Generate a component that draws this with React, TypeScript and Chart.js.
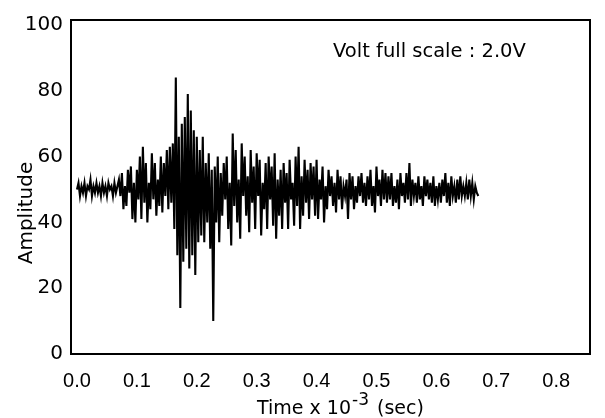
import React, { useEffect, useRef } from "react";
import { Chart, registerables } from "chart.js";

Chart.register(...registerables);

// Axis ticks
const X_TICKS = [0, 0.1, 0.2, 0.3, 0.4, 0.5, 0.6, 0.7, 0.8];
const Y_TICKS = [0, 20, 40, 60, 80, 100];

// Texts
const Y_TITLE = "Amplitude";
const X_TITLE_MAIN = "Time x 10";
const X_TITLE_SUP = "-3";
const X_TITLE_END = " (sec)";
const NOTE = "Volt full scale : 2.0V";

// Sampling interval of the trace (x 10^-3 s)
const SAMPLE_STEP = 0.0025;

// Trace amplitude, segment by segment
const quietSegment = [
  50, 52, 48, 51, 49, 52, 48, 51, 50, 53, 48, 51, 49, 52, 49, 51, 48, 52, 49, 51,
  48, 52, 50, 51, 48, 52, 49, 51,
];
const growthSegment = [
  53, 48, 55, 44, 51, 45, 56, 49, 57, 41, 52, 40, 56, 47, 60, 41, 63, 46,
  58, 40, 52, 44, 61, 47, 58, 42, 53, 45, 60, 43, 58, 48, 62, 44, 63, 46,
];
const burstSegment = [
  64, 38, 84, 30, 66, 14, 70, 28, 72, 32, 79, 26, 74, 30, 68, 24,
  66, 34, 62, 36, 66, 34, 58, 40, 61, 32, 56, 10, 57, 40, 60, 34,
];
const decaySegment = [
  55, 42, 58, 47, 60, 38, 52, 33, 67, 45, 62, 40, 53, 35, 64, 48,
  60, 42, 54, 37, 62, 46, 57, 38, 61, 48, 59, 36, 52, 44, 58, 38,
  60, 47, 57, 39, 61, 35, 53, 42, 56, 38, 58, 46, 55, 38, 59, 47,
  52, 39, 60, 45, 63, 38, 54, 42, 59, 46, 56, 41, 58, 47, 57, 42,
];
const tailSegment = [
  59, 41, 53, 47, 57, 40, 51, 44, 56, 48, 54, 45, 52, 43, 56, 47,
  54, 44, 51, 48, 53, 41, 55, 47, 54, 44, 51, 46, 54, 48, 55, 46,
  52, 45, 54, 47, 56, 45, 51, 43, 57, 48, 53, 45, 56, 47, 55, 46,
];
const endSegment = [
  54, 47, 55, 45, 51, 46, 53, 44, 55, 48, 52, 46, 55, 47, 58, 45,
  53, 48, 52, 46, 54, 47, 51, 45, 54, 48, 53, 47, 52, 46, 54, 45,
  51, 47, 52, 46, 53, 48, 55, 46, 52, 45, 54, 48, 51, 46, 53, 47,
  54, 48, 51, 48, 52, 47, 53, 48, 52, 47, 51, 49, 48,
];

const amplitude = [
  ...quietSegment,
  ...growthSegment,
  ...burstSegment,
  ...decaySegment,
  ...tailSegment,
  ...endSegment,
];

const FONT = '"DejaVu Sans"';

const framePlugin = {
  id: "frameAndTitles",
  afterDraw(chart: any) {
    const ctx = chart.ctx as CanvasRenderingContext2D;
    const a = chart.chartArea;
    ctx.save();
    ctx.strokeStyle = "#000";
    ctx.lineWidth = 2;
    ctx.strokeRect(a.left, a.top, a.right - a.left, a.bottom - a.top);

    ctx.fillStyle = "#000";
    // y title
    ctx.save();
    ctx.translate(32, 213);
    ctx.rotate(-Math.PI / 2);
    ctx.font = `20px ${FONT}`;
    ctx.textAlign = "center";
    ctx.textBaseline = "alphabetic";
    ctx.fillText(Y_TITLE, 0, 0);
    ctx.restore();

    // x title with superscript
    ctx.textAlign = "left";
    ctx.textBaseline = "alphabetic";
    let x = 257;
    ctx.font = `19px ${FONT}`;
    ctx.fillText(X_TITLE_MAIN, x, 414);
    x += ctx.measureText(X_TITLE_MAIN).width + 1;
    ctx.font = `17px ${FONT}`;
    ctx.fillText(X_TITLE_SUP, x, 405);
    x += ctx.measureText(X_TITLE_SUP).width + 2;
    ctx.font = `19px ${FONT}`;
    ctx.fillText(X_TITLE_END, x, 414);

    // note
    ctx.font = `19.5px ${FONT}`;
    ctx.fillText(NOTE, 333, 57);
    ctx.restore();
  },
};

export default function App() {
  const ref = useRef<HTMLCanvasElement | null>(null);

  useEffect(() => {
    if (!ref.current) return;
    const points = amplitude.map((v, i) => ({ x: i * SAMPLE_STEP, y: v }));
    const chart = new Chart(ref.current, {
      type: "line",
      data: {
        datasets: [
          {
            data: points,
            borderColor: "#000",
            borderWidth: 2.1,
            pointRadius: 0,
            tension: 0,
            fill: false,
          },
        ],
      },
      options: {
        responsive: false,
        animation: false,
        layout: { padding: { top: 16, right: 15, left: 0, bottom: 0 } },
        plugins: {
          legend: { display: false },
          tooltip: { enabled: false },
        },
        scales: {
          x: {
            type: "linear",
            min: -0.01,
            max: 0.8565,
            afterFit: (s: any) => {
              s.height = 64;
            },
            afterBuildTicks: (s: any) => {
              s.ticks = X_TICKS.map((v) => ({ value: v }));
            },
            grid: { display: false, drawTicks: false },
            border: { display: false },
            ticks: {
              padding: 15,
              color: "#000",
              autoSkip: false,
              maxRotation: 0,
              font: { family: "Liberation Sans", size: 20 },
              callback: (v: any) => Number(v).toFixed(1),
            },
          },
          y: {
            type: "linear",
            min: 0,
            max: 101.5,
            afterFit: (s: any) => {
              s.width = 71;
            },
            afterBuildTicks: (s: any) => {
              s.ticks = Y_TICKS.map((v) => ({ value: v }));
            },
            grid: { display: false, drawTicks: false },
            border: { display: false },
            ticks: {
              padding: 8,
              color: "#000",
              autoSkip: false,
              font: { family: "DejaVu Sans", size: 20 },
              callback: (v: any) => String(v),
            },
          },
        },
      },
      plugins: [framePlugin],
    });
    return () => chart.destroy();
  }, []);

  return (
    <div style={{ position: "absolute", left: 0, top: 0, width: 605, height: 418, background: "#fff" }}>
      <canvas ref={ref} width={605} height={418} style={{ display: "block" }} />
    </div>
  );
}
